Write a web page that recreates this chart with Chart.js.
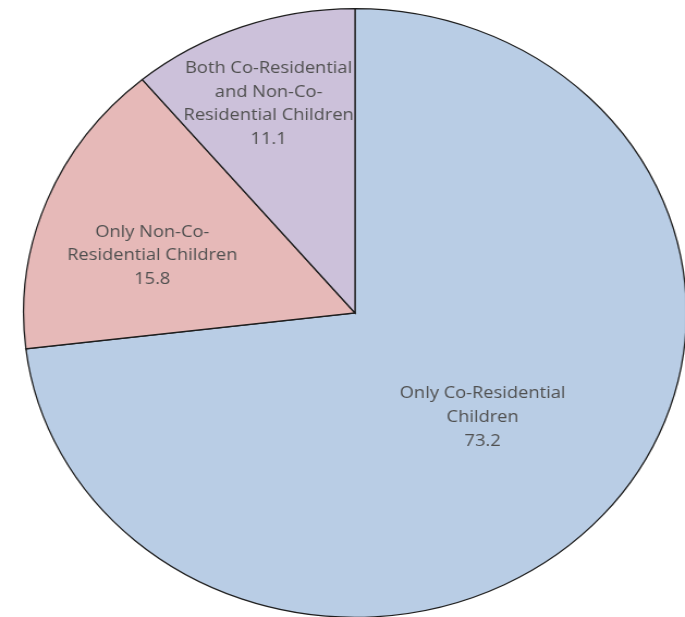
<!DOCTYPE html>
<html lang="en">
<head>
  <meta charset="UTF-8">
  <title>Children by Residence</title>
  <script src="https://cdn.jsdelivr.net/npm/chart.js"></script>
  <style>
    html, body {
      margin: 0;
      padding: 0;
      background: #fff;
      overflow: hidden;
      width: 685px;
      height: 617px;
    }
    #wrap {
      position: absolute;
      left: 45px;
      top: 0;
      width: 620px;
      height: 618px;
      /* the pie is drawn a little wider than tall */
      transform: scaleX(1.089);
      transform-origin: 310px 0;
    }
  </style>
</head>
<body>
  <div id="wrap">
    <canvas id="pie" width="620" height="618"></canvas>
  </div>

  <script>
    const categories = [
      ["Only Co-Residential", "Children"],
      ["Only Non-Co-", "Residential Children"],
      ["Both Co-Residential", "and Non-Co-", "Residential Children"]
    ];
    const shares = [73.2, 15.8, 11.1];
    const colors = ["#b9cde5", "#e6b9b8", "#ccc1da"];

    // where each label sits: [share of radius, share of the slice's angle]
    const labelSpots = [[0.515, 0.5], [0.64, 0.42], [0.735, 0.48]];

    const sliceLabels = {
      id: "sliceLabels",
      afterDatasetsDraw(chart) {
        const ctx = chart.ctx;
        const meta = chart.getDatasetMeta(0);
        ctx.save();
        ctx.font = "16.8px 'Open Sans'";
        ctx.fillStyle = "#505050";
        ctx.textAlign = "center";
        ctx.textBaseline = "middle";
        meta.data.forEach((arc, i) => {
          const p = arc.getProps(["x", "y", "startAngle", "endAngle", "outerRadius"]);
          const spot = labelSpots[i];
          const a = p.startAngle + (p.endAngle - p.startAngle) * spot[1];
          const r = p.outerRadius * spot[0];
          const lines = categories[i].concat([shares[i].toFixed(1)]);
          const lh = 23.7;
          const x = p.x + Math.cos(a) * r;
          const y0 = p.y + Math.sin(a) * r - (lines.length - 1) * lh / 2;
          lines.forEach((t, k) => ctx.fillText(t, x, y0 + k * lh));
        });
        ctx.restore();
      }
    };

    new Chart(document.getElementById("pie"), {
      type: "pie",
      data: {
        labels: categories,
        datasets: [{
          data: shares,
          backgroundColor: colors,
          borderColor: "#1e1e1e",
          borderWidth: 1.3,
          borderJoinStyle: "miter"
        }]
      },
      options: {
        responsive: false,
        animation: false,
        layout: { padding: { top: 8 } },
        plugins: {
          legend: { display: false },
          tooltip: { enabled: false }
        }
      },
      plugins: [sliceLabels]
    });
  </script>
</body>
</html>
